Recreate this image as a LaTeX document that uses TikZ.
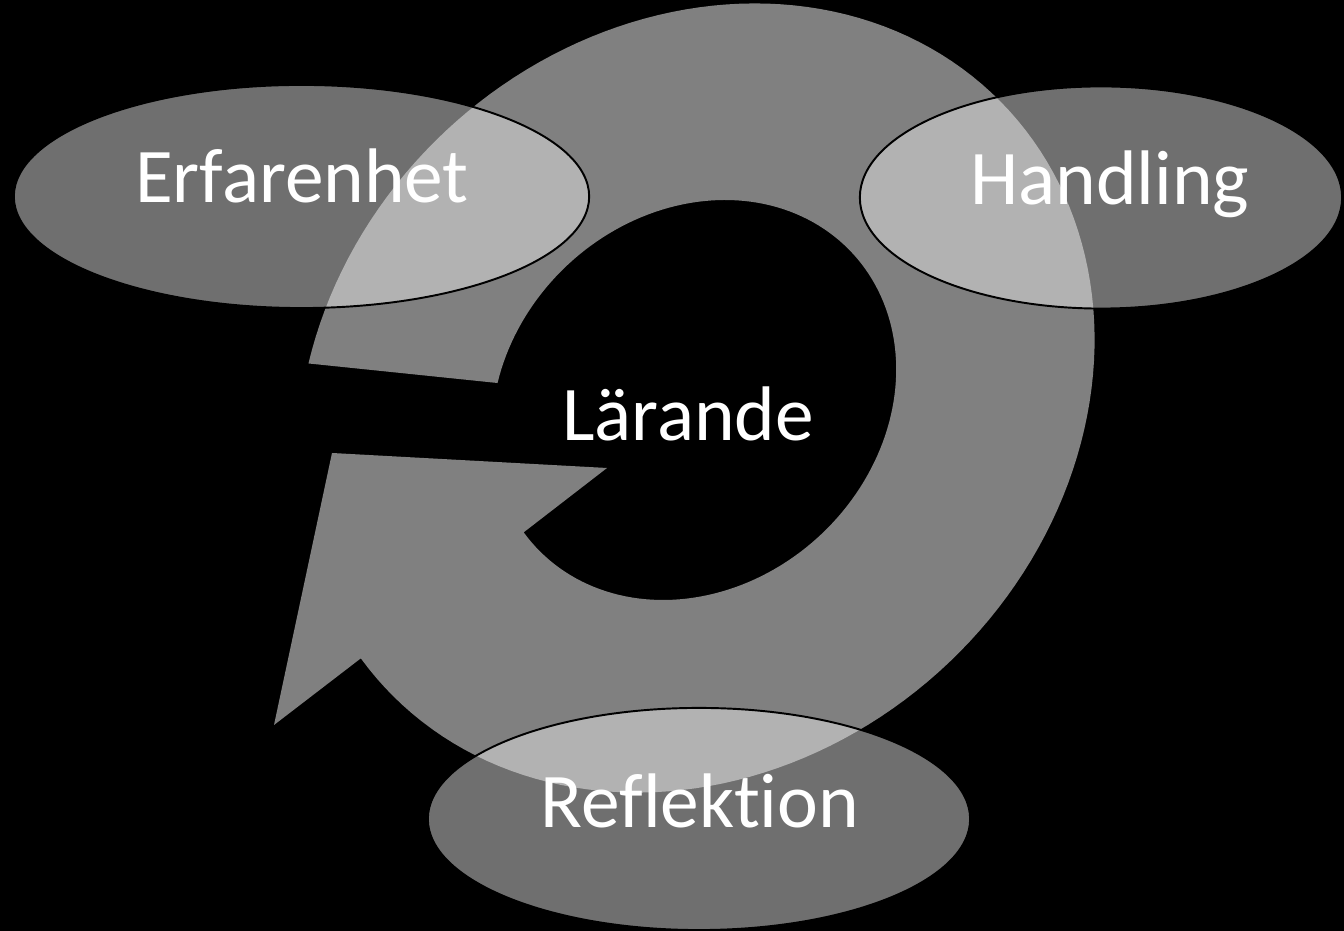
\documentclass[tikz,border=0pt]{standalone}
\usepackage{fontspec}
\setmainfont{Carlito}[Ligatures=NoCommon]
\usetikzlibrary{shapes.geometric}
\definecolor{ringgray}{RGB}{128,128,128}
\definecolor{bubblegray}{RGB}{236,236,236}
\begin{document}
\begin{tikzpicture}[x=0.01cm,y=-0.01cm,
  bubble/.style={ellipse, draw=black, line width=0.55pt, fill=bubblegray, fill opacity=0.47, inner sep=0pt},
  lbl/.style={text=white, font=\fontsize{22}{26}\selectfont, anchor=base, inner sep=0pt},
  ringshape/.style={fill=ringgray}]
\useasboundingbox (0,0) rectangle (1344,931);
\fill[black] (0,0) rectangle (1344,931);
% arrowhead points
\coordinate (headout) at (274,725);
\coordinate (tip) at (332,453);
\coordinate (headin) at (607,468);
% circular arrow
\fill[ringshape]
  plot[domain=-127.7:186,samples=160,variable=\t]
    ({696+310.8*cos(\t)+249.6*sin(\t)},{398-289.9*cos(\t)+267.7*sin(\t)})
  -- (headout) -- (tip) -- (headin)
  -- plot[domain=186:-127.7,samples=160,variable=\t]
    ({694+158.0*cos(\t)+126.2*sin(\t)},{400-147.3*cos(\t)+135.3*sin(\t)})
  -- cycle;
% ellipses
\node[bubble, minimum width=5.75cm, minimum height=2.23cm] (erf) at (301.5,196.5) {};
\node[bubble, minimum width=4.82cm, minimum height=2.22cm] (hand) at (1101,197.5) {};
\node[bubble, minimum width=5.42cm, minimum height=2.22cm] (refl) at (699,819) {};
% texts
\node[lbl] (terf) at (302,203) {Erfarenhet};
\node[lbl] (thand) at (1110,205) {Handling};
\node[lbl] (trefl) at (700,828) {Reflektion};
\node[lbl] (tlar) at (688,441) {Lärande};
\end{tikzpicture}
\end{document}
